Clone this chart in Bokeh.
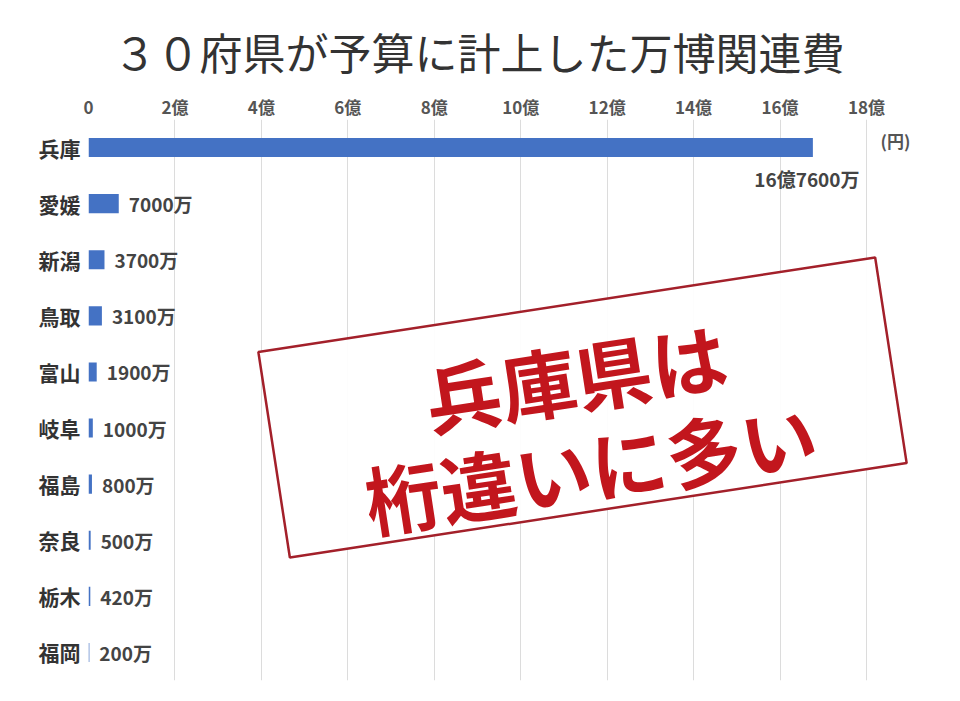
from bokeh.plotting import figure
from bokeh.models import Range1d, FactorRange, Label, FixedTicker, ColumnDataSource
from bokeh.core.properties import value
from bokeh.embed import file_html
from bokeh.resources import INLINE

# ---- data (values in 万円) ----
prefectures = ["兵庫", "愛媛", "新潟", "鳥取", "富山", "岐阜", "福島", "奈良", "栃木", "福岡"]
amounts_man = [167600, 7000, 3700, 3100, 1900, 1000, 800, 500, 420, 200]
amount_labels = ["16億7600万", "7000万", "3700万", "3100万", "1900万",
                 "1000万", "800万", "500万", "420万", "200万"]
tick_values = [0, 20000, 40000, 60000, 80000, 100000, 120000, 140000, 160000, 180000]
tick_labels = ["0", "2億", "4億", "6億", "8億", "10億", "12億", "14億", "16億", "18億"]
title_text = "３０府県が予算に計上した万博関連費"
unit_text = "(円)"
stamp_lines = ["兵庫県は", "桁違いに多い"]

JP = "Noto Sans CJK JP"
W, H = 944, 685

p = figure(width=W, height=H, output_backend="svg", toolbar_location=None,
           x_range=Range1d(0, 192500),
           y_range=FactorRange(factors=list(reversed(prefectures))),
           x_axis_location="above",
           min_border_left=88, min_border_right=24, min_border_top=119, min_border_bottom=5)
p.outline_line_color = None
p.background_fill_color = "white"

p.title.text = title_text
p.title.text_font = JP
p.title.text_font_size = "43px"
p.title.text_font_style = "normal"
p.title.text_color = "#333333"
p.title.align = "left"
p.title.offset = 25
p.title.standoff = 17

# axes
xa = p.xaxis[0]
xa.ticker = FixedTicker(ticks=tick_values)
xa.major_label_overrides = {t: l for t, l in zip(tick_values, tick_labels)}
xa.axis_line_color = None
xa.major_tick_line_color = None
xa.minor_tick_line_color = None
xa.major_tick_out = 0
xa.major_tick_in = 0
xa.minor_tick_out = 0
xa.major_label_standoff = 1
xa.major_label_text_font = JP
xa.major_label_text_font_size = "17px"
xa.major_label_text_font_style = "bold"
xa.major_label_text_color = "#555555"

ya = p.yaxis[0]
ya.axis_line_color = None
ya.major_tick_line_color = None
ya.major_tick_out = 0
ya.major_tick_in = 0
ya.major_label_standoff = 8
ya.major_label_text_font = JP
ya.major_label_text_font_size = "21px"
ya.major_label_text_font_style = "bold"
ya.major_label_text_color = "#333333"

p.xgrid.grid_line_color = "#dcdcdc"
p.xgrid.grid_line_width = 1
p.ygrid.grid_line_color = None

src = ColumnDataSource(dict(pref=prefectures, amt=amounts_man, lab=amount_labels))
p.hbar(y="pref", right="amt", left=0, height=0.34, source=src,
       fill_color="#4472C4", line_color=None)

# value labels (all but the first beside the bar; the first below it)
side = ColumnDataSource(dict(pref=prefectures[1:], amt=amounts_man[1:], lab=amount_labels[1:]))
p.text(x="amt", y="pref", text="lab", source=side, x_offset=10,
       text_font=value(JP), text_font_size="19px", text_font_style="bold",
       text_color="#444444", text_align="left", text_baseline="middle")
top = ColumnDataSource(dict(pref=prefectures[:1], amt=amounts_man[:1], lab=amount_labels[:1]))
p.text(x="amt", y="pref", text="lab", source=top, x_offset=-6, y_offset=31,
       text_font=value(JP), text_font_size="19px", text_font_style="bold",
       text_color="#444444", text_align="center", text_baseline="middle")

# unit
p.add_layout(Label(x=186700, y=9.626, text=unit_text, text_font=JP, text_font_size="17px",
                   text_font_style="bold", text_color="#555555",
                   text_align="center", text_baseline="middle"))

# stamp
ang = 0.152
p.rect(x=[114300], y=[4.866], width=[624], height=[208], angle=ang,
       width_units="screen", height_units="screen",
       fill_color="white", fill_alpha=0.92, line_color="#A3202A", line_width=2.5)
p.text(x=[112700, 116150], y=[5.437, 3.832], text=stamp_lines, angle=ang,
       text_font=value(JP), text_font_size="76px", text_font_style="bold",
       text_color="#C2161D", text_align="center", text_baseline="middle")

open("out.html", "w").write(file_html(p, INLINE))
